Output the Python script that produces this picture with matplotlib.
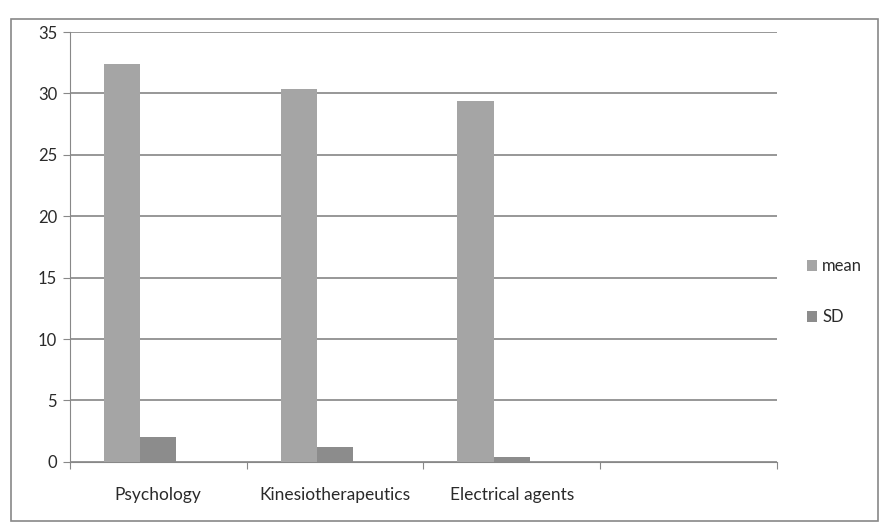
import numpy as np
import matplotlib
matplotlib.use("Agg")
import matplotlib.pyplot as plt
from matplotlib.patches import Rectangle

categories = ["Psychology", "Kinesiotherapeutics", "Electrical agents", ""]
mean_vals = [32.4, 30.4, 29.4, np.nan]
sd_vals = [2.0, 1.2, 0.4, np.nan]
y_ticks = [0, 5, 10, 15, 20, 25, 30, 35]

plt.rcParams['font.family'] = ['Lato', 'DejaVu Sans']

fig = plt.figure(figsize=(8.82, 5.26), dpi=100)
ax = fig.add_axes([0.079, 0.122, 0.802, 0.817])

x = np.arange(len(categories))
w = 0.205
ax.bar(x - w, mean_vals, w, color='#a5a5a5', label='mean', zorder=3)
ax.bar(x, sd_vals, w, color='#8c8c8c', label='SD', zorder=3)

ax.set_xlim(-0.5, len(categories) - 0.5)
ax.set_ylim(0, 35)
ax.set_yticks(y_ticks)
ax.yaxis.grid(True, color='#7a7a7a', linewidth=1.1, zorder=0)
ax.set_axisbelow(True)

# category boundary ticks, labels at centres
ax.set_xticks(np.arange(len(categories) + 1) - 0.5)
ax.set_xticklabels([])
ax.set_xticks(x, minor=True)
ax.set_xticklabels(categories, minor=True, fontsize=12.5, color='#2a2a2a')
ax.tick_params(axis='x', which='minor', length=0, pad=18)
ax.tick_params(axis='x', which='major', length=5, color='#888888', direction='out')
ax.tick_params(axis='y', length=5, color='#888888', labelsize=12, labelcolor='#2a2a2a', pad=4)

for s in ['top', 'right']:
    ax.spines[s].set_visible(False)
for s in ['left', 'bottom']:
    ax.spines[s].set_color('#888888')

fig.legend(loc='center left', bbox_to_anchor=(0.898, 0.445), frameon=False,
           handlelength=0.6, handleheight=0.6, handletextpad=0.3,
           labelspacing=2.1, fontsize=12, labelcolor='#2a2a2a')

fig.patches.append(Rectangle((11 / 882, 5 / 526), 867 / 882, 502 / 526,
                             transform=fig.transFigure, fill=False,
                             edgecolor='#888888', linewidth=1.2))

fig.savefig("out.png", dpi=100)
